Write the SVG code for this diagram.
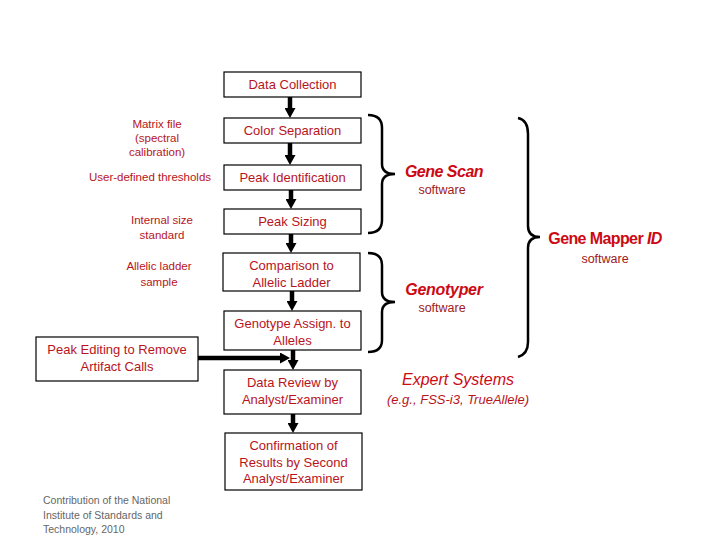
<svg xmlns="http://www.w3.org/2000/svg" width="720" height="540" viewBox="0 0 720 540">
<style>
.box{fill:#fff;stroke:#000;stroke-width:1.2}
.t{font-family:"Liberation Sans",Arial,sans-serif;font-size:13px;fill:#b8141c;text-anchor:middle}
.s{font-family:"Liberation Sans",Arial,sans-serif;font-size:11.5px;fill:#b8141c;text-anchor:middle}
.sw{font-family:"Liberation Sans",Arial,sans-serif;font-size:12.5px;fill:#a01820;text-anchor:middle}
.big{font-family:"Liberation Sans",Arial,sans-serif;font-size:16px;fill:#cc0a14;text-anchor:middle}
.it{font-style:italic}
.foot{font-family:"Liberation Sans",Arial,sans-serif;font-size:10.5px;fill:#666}
.ar{stroke:#000;stroke-width:4.5;fill:none;marker-end:url(#ah)}
.br{stroke:#000;stroke-width:2.5;fill:none}
</style>
<defs>
<marker id="ah" markerWidth="10" markerHeight="11" refX="4" refY="5.5" orient="auto" markerUnits="userSpaceOnUse" viewBox="0 0 10 11">
<path d="M0,0 L10,5.5 L0,11 z" fill="#000"/>
</marker>
</defs>
<rect width="720" height="540" fill="#fff"/>
<g id="connectors">
<line class="ar" x1="290" y1="97" x2="290" y2="112"/>
<line class="ar" x1="290" y1="143" x2="290" y2="159"/>
<line class="ar" x1="291" y1="190" x2="291" y2="203"/>
<line class="ar" x1="291" y1="234" x2="291" y2="247"/>
<line class="ar" x1="292" y1="291" x2="292" y2="305"/>
<line class="ar" x1="293" y1="350" x2="293" y2="364"/>
<line class="ar" x1="198" y1="358" x2="284" y2="358"/>
<line class="ar" x1="293" y1="414" x2="293" y2="427"/>
</g>
<g id="n-data-collection"><rect class="box" x="224" y="72" width="137" height="25"/><text class="t" x="292.5" y="89">Data Collection</text></g>
<g id="n-color-separation"><rect class="box" x="224" y="118" width="137" height="25"/><text class="t" x="292.5" y="135">Color Separation</text></g>
<g id="n-peak-identification"><rect class="box" x="224" y="165" width="137" height="25"/><text class="t" x="292.5" y="182">Peak Identification</text></g>
<g id="n-peak-sizing"><rect class="box" x="224" y="209" width="137" height="25"/><text class="t" x="292.5" y="226">Peak Sizing</text></g>
<g id="n-comparison"><rect class="box" x="223" y="253" width="137" height="38"/><text class="t" x="291.5" y="270">Comparison to</text><text class="t" x="291.5" y="287">Allelic Ladder</text></g>
<g id="n-genotype"><rect class="box" x="224" y="311" width="137" height="39"/><text class="t" x="292.5" y="328">Genotype Assign. to</text><text class="t" x="292.5" y="345">Alleles</text></g>
<g id="n-data-review"><rect class="box" x="224" y="370" width="137" height="44"/><text class="t" x="292.5" y="387">Data Review by</text><text class="t" x="292.5" y="404">Analyst/Examiner</text></g>
<g id="n-confirmation"><rect class="box" x="225" y="433" width="137" height="57"/><text class="t" x="293.5" y="450">Confirmation of</text><text class="t" x="293.5" y="467">Results by Second</text><text class="t" x="293.5" y="483">Analyst/Examiner</text></g>
<g id="n-peak-editing"><rect class="box" x="36" y="337" width="162" height="44"/><text class="t" x="117" y="354">Peak Editing to Remove</text><text class="t" x="117" y="371">Artifact Calls</text></g>
<g id="left-labels">
<text class="s" x="157" y="128">Matrix file</text>
<text class="s" x="157" y="142">(spectral</text>
<text class="s" x="157" y="156">calibration)</text>
<text class="s" x="150" y="181">User-defined thresholds</text>
<text class="s" x="162" y="224">Internal size</text>
<text class="s" x="162" y="239">standard</text>
<text class="s" x="159" y="270">Allelic ladder</text>
<text class="s" x="159" y="286">sample</text>
</g>
<g id="braces">
<path class="br" d="M368,115 Q382,115 382,128 L382,164 Q382,174 395,174 Q382,174 382,184 L382,220 Q382,233 368,233"/>
<path class="br" d="M368,253 Q382,253 382,265 L382,292 Q382,302 395,302 Q382,302 382,312 L382,340 Q382,352 368,352"/>
<path class="br" d="M518,118 Q528,120 528,134 L528,226 Q528,237 540,237 Q528,237 528,248 L528,342 Q528,354 518,357"/>
</g>
<g id="software-labels">
<text class="big it" x="444" y="177" font-weight="bold" letter-spacing="-0.5">Gene Scan</text>
<text class="sw" x="442" y="194">software</text>
<text class="big" x="605" y="244" font-weight="bold" letter-spacing="-0.6">Gene Mapper <tspan font-style="italic">ID</tspan></text>
<text class="sw" x="605" y="263">software</text>
<text class="big it" x="444" y="295" font-weight="bold" letter-spacing="-0.3">Genotyper</text>
<text class="sw" x="442" y="312">software</text>
<text class="big it" x="458" y="385">Expert Systems</text>
<text class="t it" x="458" y="404">(e.g., FSS-i3, TrueAllele)</text>
</g>
<g id="footer">
<text class="foot" x="43" y="504">Contribution of the National</text>
<text class="foot" x="43" y="519">Institute of Standards and</text>
<text class="foot" x="43" y="533">Technology, 2010</text>
</g>
</svg>
